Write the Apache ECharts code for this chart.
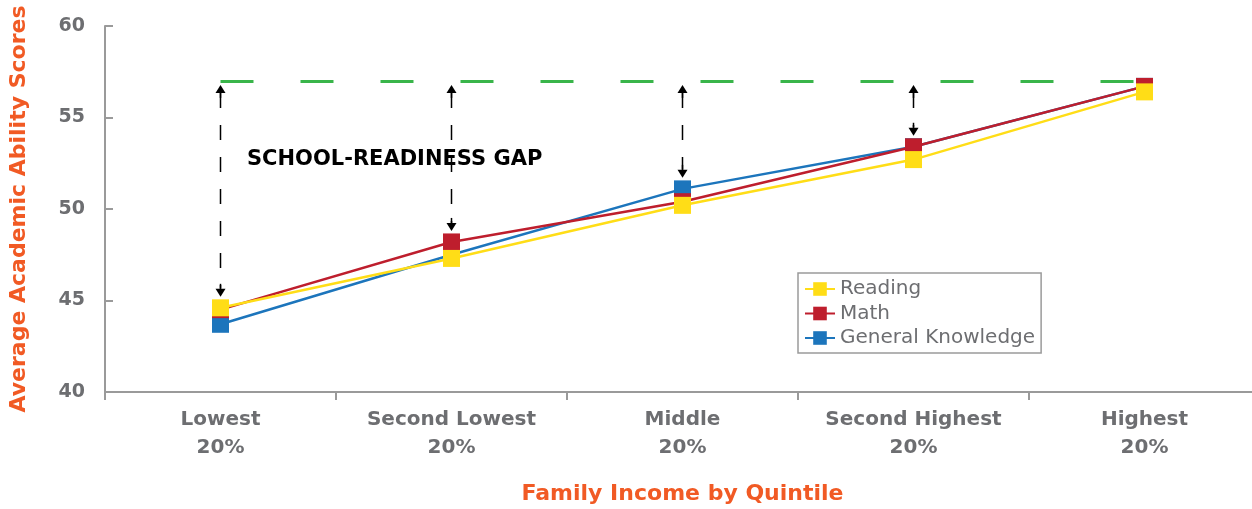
<!DOCTYPE html>
<html><head><meta charset="utf-8">
<script src="https://cdn.jsdelivr.net/npm/echarts@6/dist/echarts.min.js"></script>
<style>html,body{margin:0;padding:0;background:#fff}#c{width:1252px;height:509px}</style>
</head><body><div id="c"></div>
<script>
const categories = ['Lowest\n20%', 'Second Lowest\n20%', 'Middle\n20%', 'Second Highest\n20%', 'Highest\n20%'];
const reading = [44.6, 47.3, 50.2, 52.7, 56.4];
const math = [44.5, 48.2, 50.4, 53.4, 56.7];
const generalKnowledge = [43.7, 47.5, 51.1, 53.4, 56.7];
const readinessTarget = 57;
const yTicks = [40, 45, 50, 55, 60];
const annotation = 'SCHOOL-READINESS GAP';

const gray = '#6d6e71';
const orange = '#f15a24';
const labelFont = '"DejaVu Sans", sans-serif';

// gap arrows: for each quintile except the highest, from target to top score
const gapData = categories.slice(0, 4).map((c, i) =>
  [i, readinessTarget, Math.max(reading[i], math[i], generalKnowledge[i])]);

const chart = echarts.init(document.getElementById('c'));
chart.setOption({
  animation: false,
  grid: { left: 105, top: 26, width: 1155, height: 366, outerBoundsMode: 'none', containLabel: false },
  legend: {
    data: ['Reading', 'Math', 'General Knowledge'],
    orient: 'vertical',
    left: 798, top: 273,
    borderColor: '#9a9a9a', borderWidth: 1.5,
    padding: [6, 6, 5, 6],
    itemWidth: 30, itemHeight: 17, itemGap: 4.5,
    textStyle: { color: gray, fontSize: 20, fontFamily: labelFont }
  },
  xAxis: {
    type: 'category', data: categories, boundaryGap: true,
    name: 'Family Income by Quintile', nameLocation: 'middle', nameGap: 91,
    nameTextStyle: { color: orange, fontSize: 22, fontWeight: 'bold', fontFamily: labelFont },
    axisLine: { lineStyle: { color: '#9a9a9a', width: 2 } },
    axisTick: { show: true, length: 8, lineStyle: { color: '#9a9a9a', width: 2 } },
    axisLabel: { color: gray, fontSize: 20, fontWeight: 'bold', fontFamily: labelFont, lineHeight: 28, margin: 14 }
  },
  yAxis: {
    type: 'value', min: yTicks[0], max: yTicks[yTicks.length - 1], interval: 5,
    name: 'Average Academic Ability Scores', nameLocation: 'middle', nameGap: 75,
    nameTextStyle: { color: orange, fontSize: 22, fontWeight: 'bold', fontFamily: labelFont },
    axisLine: { show: true, lineStyle: { color: '#9a9a9a', width: 2 } },
    axisTick: { show: true, inside: true, length: 8, lineStyle: { color: '#9a9a9a', width: 2 } },
    splitLine: { show: false },
    axisLabel: { color: gray, fontSize: 19, fontWeight: 'bold', fontFamily: labelFont, margin: 20 }
  },
  graphic: [{
    type: 'text', left: 247, top: 149,
    style: { text: annotation, fill: '#000', font: '900 21px "DejaVu Sans", sans-serif' }
  }],
  series: [
    {
      name: 'General Knowledge', type: 'line', data: generalKnowledge,
      symbol: 'rect', symbolSize: 17, color: '#1c75bc',
      lineStyle: { width: 2.5 }, z: 3,
      markLine: {
        silent: true, symbol: 'none', z: 1,
        lineStyle: { color: '#39b54a', width: 3, type: [33, 47] },
        label: { show: false },
        data: [[{ coord: [0, readinessTarget] }, { coord: [4, readinessTarget] }]]
      }
    },
    {
      name: 'Math', type: 'line', data: math,
      symbol: 'rect', symbolSize: 17, color: '#be1e2d',
      lineStyle: { width: 2.5 }, z: 4
    },
    {
      name: 'Reading', type: 'line', data: reading,
      symbol: 'rect', symbolSize: 17, color: '#ffdd17',
      lineStyle: { width: 2.5 }, z: 5
    },
    {
      type: 'custom', data: gapData, z: 6, silent: true,
      renderItem: function (params, api) {
        const top = api.coord([api.value(0), api.value(1)]);
        const bot = api.coord([api.value(0), api.value(2)]);
        const x = top[0];
        const y1 = top[1] + 4, y2 = bot[1] - 11;
        const h = 8, w = 5;
        return {
          type: 'group',
          children: [
            { type: 'line', shape: { x1: x, y1: y1 + h, x2: x, y2: y2 - h },
              style: { stroke: '#000', lineWidth: 1.5, lineDash: [15, 17] } },
            { type: 'polygon', shape: { points: [[x, y1], [x - w, y1 + h], [x + w, y1 + h]] },
              style: { fill: '#000' } },
            { type: 'polygon', shape: { points: [[x, y2], [x - w, y2 - h], [x + w, y2 - h]] },
              style: { fill: '#000' } },
            { type: 'line', shape: { x1: x, y1: y1 + h, x2: x, y2: y1 + h + 5 },
              style: { stroke: '#000', lineWidth: 1.5 } },
            { type: 'line', shape: { x1: x, y1: y2 - h - 5, x2: x, y2: y2 - h },
              style: { stroke: '#000', lineWidth: 1.5 } }
          ]
        };
      }
    }
  ]
});
</script></body></html>
